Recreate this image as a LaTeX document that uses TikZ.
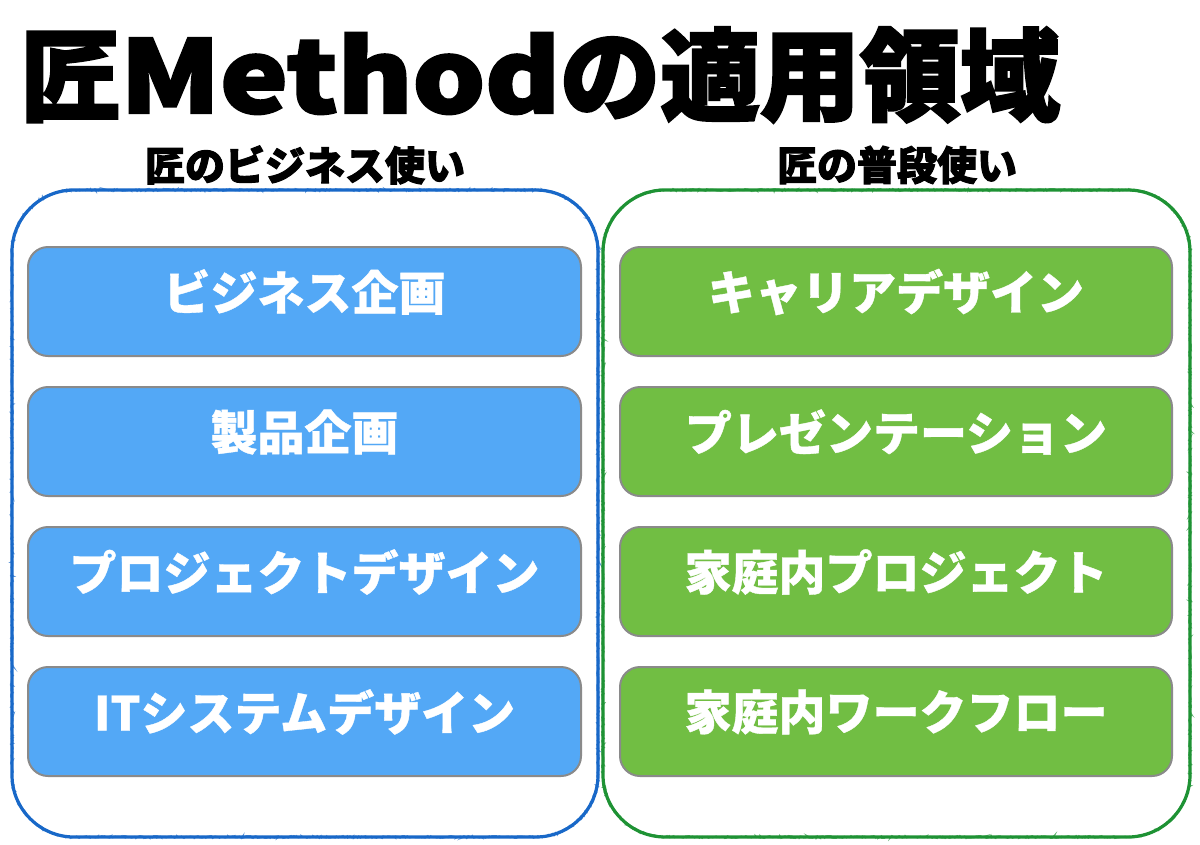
\documentclass[tikz,border=0pt]{standalone}
\usepackage{fontspec}
\usetikzlibrary{decorations.pathmorphing}
\newfontfamily\jp[BoldFeatures={FakeBold=0.8}]{Noto Sans CJK JP}
\newfontfamily\jpheavy[UprightFeatures={FakeBold=2.5},BoldFeatures={FakeBold=2.5}]{Noto Sans CJK JP}
\definecolor{boxblue}{HTML}{53A8F6}
\definecolor{boxgreen}{HTML}{71BE43}
\definecolor{boxgray}{HTML}{8A8A8A}
\definecolor{lineblue}{HTML}{1868C8}
\definecolor{linegreen}{HTML}{1E9234}
\newcommand\frameshape[5]{%
  ({#1+#5},#2) -- ({#3-#5},#2)
  .. controls ({#3-0.45*#5},#2) and (#3,{#2+0.45*#5}) .. (#3,{#2+#5})
  -- (#3,{#4-#5})
  .. controls (#3,{#4-0.45*#5}) and ({#3-0.45*#5},#4) .. ({#3-#5},#4)
  -- ({#1+#5},#4)
  .. controls ({#1+0.45*#5},#4) and (#1,{#4-0.45*#5}) .. (#1,{#4-#5})
  -- (#1,{#2+#5})
  .. controls (#1,{#2+0.45*#5}) and ({#1+0.45*#5},#2) .. ({#1+#5},#2) -- cycle}
\tikzset{
  x=1pt, y=-1pt,
  itembox/.style={draw=boxgray, line width=2pt, rounded corners=20pt},
  bluebox/.style={itembox, fill=boxblue},
  greenbox/.style={itembox, fill=boxgreen},
  itemtext/.style={text=white, font=\jp\bfseries\fontsize{47}{47}\selectfont, inner sep=0pt},
  subtitle/.style={text=black, font=\jpheavy\bfseries\fontsize{40}{40}\selectfont, inner sep=0pt},
  crayon/.style={line width=3.2pt},
  crayonrough/.style={line width=1.6pt, opacity=0.7, decorate, decoration={random steps, segment length=1.5pt, amplitude=1.2pt}},
}
\begin{document}
\begin{tikzpicture}
\useasboundingbox (0,0) rectangle (1200,844);
\fill[white] (0,0) rectangle (1200,844);
% title
\node[anchor=west, inner sep=0pt, font=\jpheavy\bfseries\fontsize{100}{100}\selectfont] (title) at (20,75) {匠\scalebox{1.14}[1]{Method}の適用領域};
% outer frames
\draw[crayon, draw=lineblue] \frameshape{12}{190}{598}{837}{62};
\draw[crayonrough, draw=lineblue] \frameshape{12}{190}{598}{837}{62};
\draw[crayon, draw=linegreen] \frameshape{603}{190}{1190}{837}{62};
\draw[crayonrough, draw=linegreen] \frameshape{603}{190}{1190}{837}{62};
% subtitles
\node[subtitle] (sub1) at (305,165) {匠のビジネス使い};
\node[subtitle] (sub2) at (897,165) {匠の普段使い};
% left boxes
\draw[bluebox] (28,247) rectangle (581,356);
\draw[bluebox] (28,387) rectangle (581,496);
\draw[bluebox] (28,527) rectangle (581,636);
\draw[bluebox] (28,667) rectangle (581,776);
\node[itemtext] (l1) at (304.5,292) {ビジネス企画};
\node[itemtext] (l2) at (304.5,432) {製品企画};
\node[itemtext] (l3) at (304.5,572) {プロジェクトデザイン};
\node[itemtext] (l4) at (304.5,712) {ITシステムデザイン};
% right boxes
\draw[greenbox] (620,247) rectangle (1172,356);
\draw[greenbox] (620,387) rectangle (1172,496);
\draw[greenbox] (620,527) rectangle (1172,636);
\draw[greenbox] (620,667) rectangle (1172,776);
\node[itemtext] (r1) at (896,292) {キャリアデザイン};
\node[itemtext] (r2) at (896,432) {プレゼンテーション};
\node[itemtext] (r3) at (896,572) {家庭内プロジェクト};
\node[itemtext] (r4) at (896,712) {家庭内ワークフロー};
\end{tikzpicture}
\end{document}
